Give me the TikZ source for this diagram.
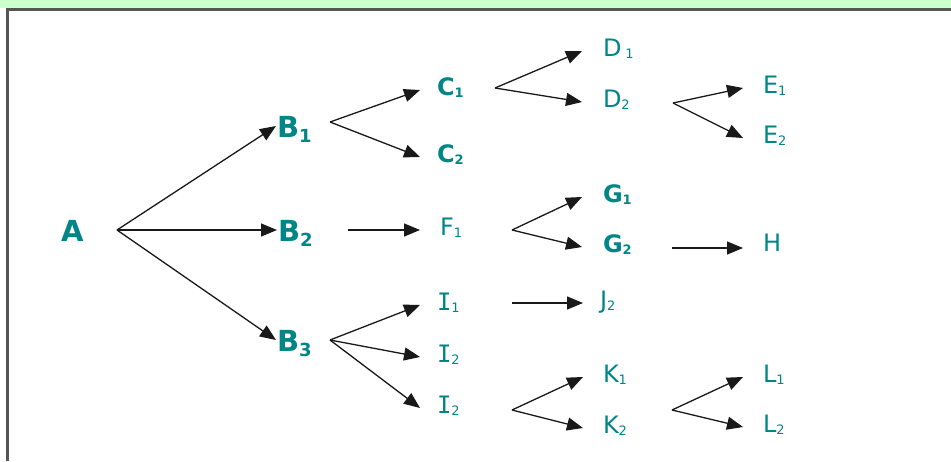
\documentclass[tikz,border=0pt]{standalone}
\usepackage{fontspec}
\setmainfont{DejaVu Sans}
\newfontfamily\monoI{DejaVu Sans Mono}
\usetikzlibrary{arrows.meta}
\definecolor{labteal}{RGB}{0,134,134}
\definecolor{bandgreen}{RGB}{204,255,204}
\definecolor{framegray}{RGB}{85,85,85}
\newcommand\sbn[1]{\raisebox{-2pt}{\fontsize{13}{13}\selectfont #1}}
\newcommand\sbb[1]{\raisebox{-5pt}{\fontsize{18}{18}\selectfont #1}}
\begin{document}
\begin{tikzpicture}[x=1pt,y=-1pt,
  lbl/.style={text=labteal, inner ysep=0pt, outer sep=0pt, anchor=west,
    font=\fontsize{24}{26}\selectfont, text height=15pt, text depth=5pt, inner xsep=19pt},
  bold/.style={font=\fontsize{24}{26}\selectfont\bfseries},
  big/.style={lbl, font=\fontsize{29}{31}\selectfont\bfseries, text height=22pt, text depth=0pt, inner xsep=1pt},
  arr/.style={draw=black!90, line width=1.3pt, -{Triangle[length=16pt,width=13pt]}},
  frame/.style={draw=framegray, line width=3pt}]
\useasboundingbox (0,0) rectangle (951,461);
\fill[white] (0,0) rectangle (951,461);
\fill[bandgreen] (0,0) rectangle (951,8);
\draw[frame] (951,9.5) -- (7,9.5) -- (7,461);

% labels
\node[text=labteal, anchor=base west, inner sep=0pt, font=\fontsize{29}{31}\selectfont\bfseries] (A) at (61,241) {A};
\node[big] (B1) at (276,126) {B\sbb{1}};
\node[big] (B2) at (277,230) {B\sbb{2}};
\node[big] (B3) at (276,340) {B\sbb{3}};
\node[lbl,bold,inner xsep=17pt] (C1) at (420,90) {C\sbn{1}};
\node[lbl,bold,inner xsep=17pt] (C2) at (420,157) {C\sbn{2}};
\node[lbl,inner xsep=21pt] (D1) at (582,51) {D\,\sbn{1}};
\node[lbl,inner xsep=21pt] (D2) at (582,102) {D\sbn{2}};
\node[lbl,inner xsep=20pt] (E1) at (743,88) {E\sbn{1}};
\node[lbl,inner xsep=20pt] (E2) at (743,138) {E\sbn{2}};
\node[lbl,inner xsep=20pt] (F1) at (420,230) {F\sbn{1}};
\node[lbl,bold,inner xsep=21pt] (G1) at (582,197) {G\sbn{1}};
\node[lbl,bold,inner xsep=21pt] (G2) at (582,247) {G\sbn{2}};
\node[lbl,inner xsep=20pt,text depth=9pt] (H) at (743,248) {H};
\node[lbl,inner xsep=17pt] (I1) at (420,305) {{\monoI I}\sbn{1}};
\node[lbl,inner xsep=17pt] (I2) at (420,357) {{\monoI I}\sbn{2}};
\node[lbl,inner xsep=17pt] (I3) at (420,408) {{\monoI I}\sbn{2}};
\node[lbl,inner xsep=17pt] (J2) at (583,303) {J\sbn{2}};
\node[lbl,inner xsep=20pt] (K1) at (583,377) {K\sbn{1}};
\node[lbl,inner xsep=20pt] (K2) at (583,428) {K\sbn{2}};
\node[lbl,inner xsep=20pt] (L1) at (743,377) {L\sbn{1}};
\node[lbl,inner xsep=20pt] (L2) at (743,427) {L\sbn{2}};

% fork points
\coordinate (fA) at (117,230);
\coordinate (fB1) at (330,122);
\coordinate (fB2) at (348,230);
\coordinate (fB3) at (330,340);
\coordinate (fC1) at (495,88);
\coordinate (fD2) at (673,103);
\coordinate (fF1) at (512,230);
\coordinate (fG2) at (672,248);
\coordinate (fI1) at (512,303);
\coordinate (fI3) at (512,410);
\coordinate (fK) at (672,410);

% connectors
\draw[arr] (fA) -- (B1.west);
\draw[arr] (fA) -- (B2.west);
\draw[arr] (fA) -- (B3.west);
\draw[arr] (fB1) -- (C1.west);
\draw[arr] (fB1) -- (C2.west);
\draw[arr] (fC1) -- (D1.west);
\draw[arr] (fC1) -- (D2.west);
\draw[arr] (fD2) -- (E1.west);
\draw[arr] (fD2) -- (E2.west);
\draw[arr] (fB2) -- (F1.west);
\draw[arr] (fF1) -- (G1.west);
\draw[arr] (fF1) -- (G2.west);
\draw[arr] (fG2) -- (H.west);
\draw[arr] (fB3) -- (I1.west);
\draw[arr] (fB3) -- (I2.west);
\draw[arr] (fB3) -- (I3.west);
\draw[arr] (fI1) -- (J2.west);
\draw[arr] (fI3) -- (K1.west);
\draw[arr] (fI3) -- (K2.west);
\draw[arr] (fK) -- (L1.west);
\draw[arr] (fK) -- (L2.west);
\end{tikzpicture}
\end{document}
